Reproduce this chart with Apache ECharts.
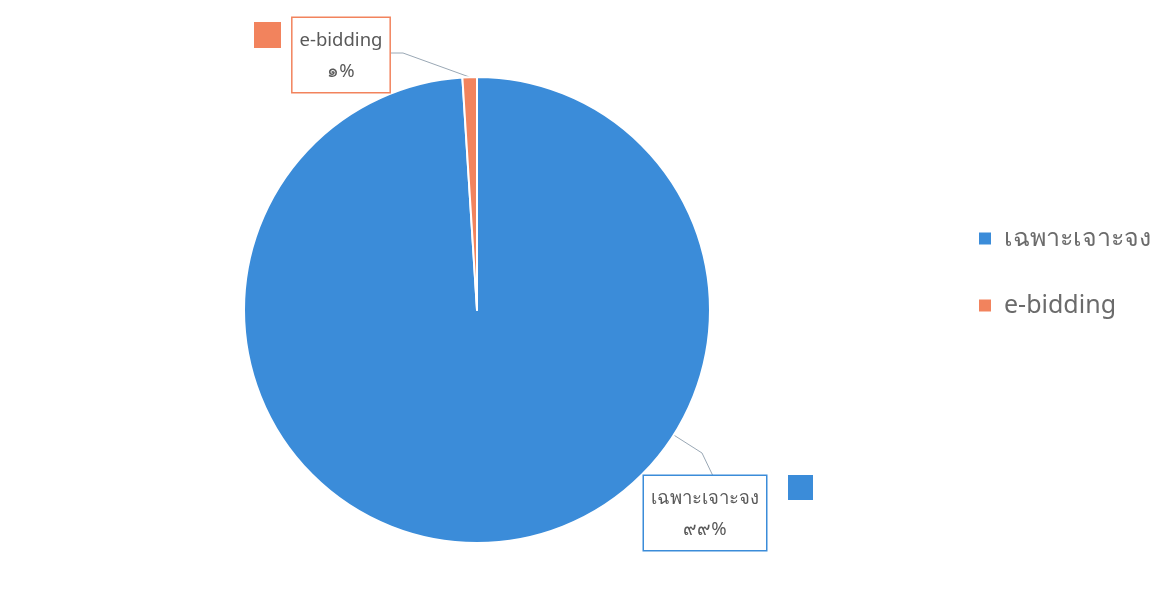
<!DOCTYPE html>
<html>
<head>
<meta charset="utf-8">
<script src="https://cdn.jsdelivr.net/npm/echarts@6/dist/echarts.min.js"></script>
<style>
html,body{margin:0;padding:0;background:#fff;}
#c{width:1171px;height:605px;}
</style>
</head>
<body>
<div id="c"></div>
<script>
// ---- data ----
var categories = ['เฉพาะเจาะจง', 'e-bidding'];
var values = [99, 1];
var colors = ['#3b8cd9', '#f2835d'];
var thaiDigits = ['๐','๑','๒','๓','๔','๕','๖','๗','๘','๙'];

function toThai(n) {
  return String(n).replace(/[0-9]/g, function (d) { return thaiDigits[+d]; });
}

var total = values.reduce(function (a, b) { return a + b; }, 0);
var CX = 477, CY = 310, R = 233;
var FONT = "'Noto Sans', 'Open Sans', sans-serif";

// label placement (layout only); anchor 'mid' = slice mid-angle, else nearest edge toward bend
var labelPos = [
  { x: 705, y: 513, bend: [702, 453], end: [713, 476], anchor: 'nearest' },
  { x: 341, y: 55, bend: [403, 53], end: [391, 53], anchor: 'mid' }
];

function midAngle(idx) {
  var before = 0;
  for (var i = 0; i < idx; i++) before += values[i];
  var mid = (before + values[idx] / 2) / total * 360;
  return (90 - mid) * Math.PI / 180;
}

function edgePoint(idx, L) {
  if (L.anchor === 'mid') {
    var a = midAngle(idx);
    return [CX + R * Math.cos(a), CY - R * Math.sin(a)];
  }
  var dx = L.bend[0] - CX, dy = L.bend[1] - CY;
  var d = Math.sqrt(dx * dx + dy * dy);
  return [CX + R * dx / d, CY + R * dy / d];
}

var chart = echarts.init(document.getElementById('c'));
chart.setOption({
  backgroundColor: '#ffffff',
  animation: false,
  color: colors,
  legend: [
    {
      orient: 'vertical',
      left: 977,
      top: 226,
      padding: 0,
      itemWidth: 14,
      itemHeight: 14,
      itemGap: 42,
      icon: 'rect',
      data: categories,
      textStyle: { fontSize: 25, color: '#6b6b6b', fontFamily: FONT, padding: [0, 0, 0, 7] }
    },
    {
      left: 252, top: 20, padding: 0, itemWidth: 29, itemHeight: 28, icon: 'rect',
      selectedMode: false, data: [categories[1]],
      formatter: function () { return ''; }
    },
    {
      left: 786, top: 473, padding: 0, itemWidth: 27, itemHeight: 27, icon: 'rect',
      selectedMode: false, data: [categories[0]],
      formatter: function () { return ''; }
    }
  ],
  series: [{
    type: 'pie',
    center: [CX, CY],
    radius: R,
    startAngle: 90,
    clockwise: true,
    itemStyle: { borderColor: '#ffffff', borderWidth: 2 },
    label: {
      show: true,
      position: 'outside',
      formatter: function (p) {
        return '{n|' + p.name + '}\n{v|' + toThai(Math.round(p.value / total * 100)) + '%}';
      },
      backgroundColor: '#ffffff',
      borderWidth: 1.5,
      borderColor: 'inherit',
      padding: [7, 7, 5, 7],
      rich: {
        n: { fontSize: 18.5, color: '#595959', fontFamily: FONT, lineHeight: 31, align: 'center' },
        v: { fontSize: 18.5, color: '#595959', fontFamily: FONT, lineHeight: 31, align: 'center' }
      }
    },
    labelLine: { show: true, lineStyle: { color: '#9aa8b5', width: 1 } },
    labelLayout: function (p) {
      var L = labelPos[p.dataIndex];
      return {
        x: L.x, y: L.y, align: 'center', verticalAlign: 'middle',
        labelLinePoints: [edgePoint(p.dataIndex, L), L.bend, L.end]
      };
    },
    data: categories.map(function (c, i) {
      return {
        name: c, value: values[i],
        label: { borderColor: colors[i] }
      };
    })
  }]
});
</script>
</body>
</html>
